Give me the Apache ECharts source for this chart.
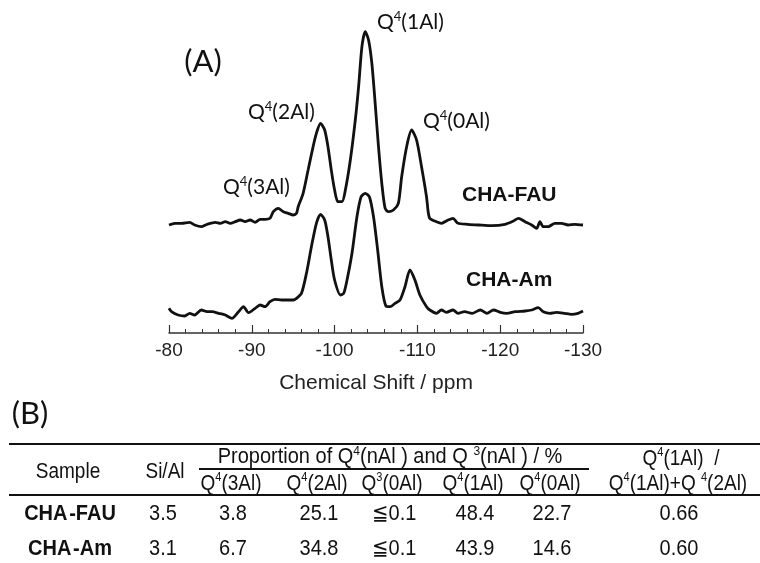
<!DOCTYPE html>
<html>
<head>
<meta charset="utf-8">
<script src="https://cdn.jsdelivr.net/npm/echarts@6/dist/echarts.min.js"></script>
<style>html,body{margin:0;padding:0;background:#fff}#c{width:760px;height:563px}</style>
</head>
<body>
<div id="c"></div>
<script>
// ---- spectrum data (chemical shift in ppm, intensity in arbitrary units) ----
const ppmFAU = [-80.0,-80.7,-81.5,-82.5,-83.1,-83.9,-84.6,-85.6,-86.2,-86.8,-87.4,-88.0,-88.6,-89.2,-89.8,-90.4,-91.0,-91.6,-92.2,-92.6,-93.2,-93.8,-94.4,-95.0,-95.4,-95.6,-96.2,-96.8,-97.4,-97.8,-98.3,-98.8,-99.2,-99.6,-100.0,-100.4,-100.9,-101.3,-101.9,-102.5,-102.9,-103.3,-103.7,-104.1,-104.5,-104.9,-105.3,-105.7,-106.1,-106.5,-107.1,-107.7,-108.1,-108.7,-109.3,-109.9,-110.5,-111.1,-111.3,-111.5,-112.3,-112.9,-113.7,-114.3,-114.9,-116.1,-117.4,-119.0,-120.6,-121.6,-122.2,-123.0,-123.8,-124.4,-124.8,-125.2,-125.8,-126.6,-127.4,-128.2,-129.0,-130.0];
const intFAU = [108,109.7,109.7,110.7,108,106.3,108.7,110.7,109.7,111.3,109.7,111.3,113,111.3,113,110.7,113.7,113.7,114.7,121.3,124.7,121.3,119.7,118,119.7,126.3,139.7,163,186.3,199.7,209.7,203,186.3,163,143,131.3,131.3,143,173,213,246.3,286.3,301.3,293,269.7,229.7,186.3,149.7,124.7,121.3,123,129.7,156.3,186.3,203,193,166.3,136.3,121.3,114.7,111.3,109.7,113,114.7,109.7,108.7,108,107.3,108.7,112,114.7,111.3,108,104.7,111.3,106.3,106.3,109.7,109.7,108,108.7,108];
const ppmAm = [-80.0,-80.3,-81.1,-81.9,-82.5,-83.1,-83.9,-84.6,-85.2,-86.0,-86.8,-87.6,-88.4,-89.0,-89.6,-90.4,-91.0,-91.6,-92.2,-92.8,-93.6,-94.4,-95.0,-95.4,-96.0,-96.6,-97.2,-97.8,-98.3,-98.8,-99.2,-99.6,-100.0,-100.7,-101.1,-101.5,-102.1,-102.7,-103.2,-103.7,-104.2,-104.7,-105.2,-105.7,-106.2,-106.7,-107.3,-107.9,-108.5,-109.1,-109.7,-110.3,-111.1,-111.5,-112.3,-112.9,-113.5,-114.3,-114.9,-115.7,-116.6,-117.6,-118.4,-119.2,-120.0,-120.8,-121.8,-123.0,-123.8,-124.6,-125.2,-126.0,-126.8,-127.8,-128.6,-129.4,-130.0];
const intAm = [24.7,21.3,18,17,19.7,18,23,21.3,21.3,19.7,18,14.7,21.3,26.3,20.3,24.7,28,26.3,31.3,33.7,33,33,33,34.7,39.7,59.7,86.3,109.7,118.7,113,96.3,73,53,38,39.7,53,79.7,116.3,136.3,139.7,136.3,116.3,83,46.3,27,26.3,29.7,33,46.3,63,53,38,26.3,23,19.7,23,20.7,23,19.7,21.3,19.7,23,19.7,23,20.7,19.7,21.3,22,23,25.3,21.3,19.7,20.7,19.7,18.7,19.7,22];

// ---- axis ----
const xMin = -130, xMax = -80, xStep = 10;
const xName = 'Chemical Shift / ppm';

// ---- annotations ----
const peakLabels = ['Q{s|4}(1Al)', 'Q{s|4}(2Al)', 'Q{s|4}(0Al)', 'Q{s|4}(3Al)'];
const traceNames = ['CHA-FAU', 'CHA-Am'];

// ---- table (B) ----
const colHeads = ['Q{s|4}(3Al)', 'Q{s|4}(2Al)', 'Q{s|3}(0Al)', 'Q{s|4}(1Al)', 'Q{s|4}(0Al)'];
const samples = ['CHA\u200a-FAU', 'CHA\u200a-Am'];
const siAl = ['3.5', '3.1'];
const q4_3Al = ['3.8', '6.7'];
const q4_2Al = ['25.1', '34.8'];
const q3_0Al = ['\u22660.1', '\u22660.1'];
const q4_1Al = ['48.4', '43.9'];
const q4_0Al = ['22.7', '14.6'];
const ratio = ['0.66', '0.60'];

const chart = echarts.init(document.getElementById('c'), null, {renderer: 'canvas'});

const LBL = 'Lato, "Open Sans", sans-serif';
const ARL = '"Liberation Sans", Arial, sans-serif';

function txt(text, x, y, fs, opts) {
  opts = opts || {};
  const sy = opts.scaleY || 1;
  return {
    type: 'text', x: x, y: y, z: 10, scaleY: sy,
    style: {
      text: text,
      font: (opts.bold ? 'bold ' : '') + fs + 'px ' + (opts.family || ARL),
      fill: opts.fill || '#111',
      align: opts.align || 'center',
      verticalAlign: 'middle',
      rich: { s: { fontSize: Math.round(fs * 0.6), fontFamily: opts.family || ARL, verticalAlign: 'top', lineHeight: fs * 1.15 } },
      lineHeight: fs * 1.15
    }
  };
}
function hline(x1, x2, y, w) {
  return { type: 'line', z: 10, shape: { x1: x1, y1: y, x2: x2, y2: y }, style: { stroke: '#111', lineWidth: w } };
}

const graphics = [];
// chart annotations
graphics.push(txt('(A)', 203, 62, 31, { family: LBL }));
graphics.push(txt(peakLabels[0], 377, 22, 21, { family: LBL, align: 'left' }));
graphics.push(txt(peakLabels[1], 248, 112, 21, { family: LBL, align: 'left' }));
graphics.push(txt(peakLabels[2], 423, 121, 21, { family: LBL, align: 'left' }));
graphics.push(txt(peakLabels[3], 223, 187, 21, { family: LBL, align: 'left' }));
graphics.push(txt(traceNames[0], 462, 195, 21, { bold: true, align: 'left' }));
graphics.push(txt(traceNames[1], 466, 280, 21, { bold: true, align: 'left' }));

// table
const T = { scaleY: 1.12 };
graphics.push(txt('(B)', 30, 414, 31, { family: LBL }));
graphics.push(hline(9, 760, 444, 2));
graphics.push(hline(199, 589, 469, 2));
graphics.push(hline(9, 760, 495, 2));
graphics.push(txt('Sample', 68, 472, 19, T));
graphics.push(txt('Si/Al', 165, 472, 19, T));
graphics.push(txt('Proportion of Q{s|4}(nAl ) and Q {s|3}(nAl ) / %', 390, 457, 20, T));
const colX = [231, 317, 392, 473, 550];
colHeads.forEach((h, i) => graphics.push(txt(h, colX[i], 484, 19, T)));
graphics.push(txt('Q{s|4}(1Al)  /', 681, 459, 19, T));
graphics.push(txt('Q{s|4}(1Al)+Q {s|4}(2Al)', 678, 484, 19, T));
const rowY = [514, 549];
const cols = [q4_3Al, q4_2Al, q3_0Al, q4_1Al, q4_0Al];
samples.forEach((s, r) => {
  graphics.push(txt(s, 70, rowY[r], 20, { bold: true, scaleY: 1.1 }));
  graphics.push(txt(siAl[r], 163, rowY[r], 20, T));
  cols.forEach((c, i) => graphics.push(txt(c[r], colX[i] + 2, rowY[r], 20, T)));
  graphics.push(txt(ratio[r], 679, rowY[r], 20, T));
});

chart.setOption({
  animation: false,
  backgroundColor: '#fff',
  grid: { left: 169, right: 177, top: 20, bottom: 230, containLabel: false },
  xAxis: {
    type: 'value', min: xMin, max: xMax, interval: xStep, inverse: true,
    name: xName, nameLocation: 'middle', nameGap: 40,
    nameTextStyle: { fontFamily: ARL, fontSize: 21, color: '#222' },
    axisLine: { show: true, onZero: false, lineStyle: { color: '#333', width: 1.5 } },
    axisTick: { show: true, inside: true, length: 8, lineStyle: { color: '#333', width: 1.2 } },
    minorTick: { show: true, splitNumber: 5, length: 4, lineStyle: { color: '#333', width: 1 } },
    axisLabel: { fontFamily: ARL, fontSize: 19, color: '#222', margin: 8 },
    splitLine: { show: false }
  },
  yAxis: { type: 'value', min: 0, max: 313, show: false, splitLine: { show: false } },
  series: [
    { name: traceNames[0], type: 'line', showSymbol: false, symbol: 'none', smooth: 0.25,
      data: ppmFAU.map((p, i) => [p, intFAU[i]]),
      lineStyle: { color: '#111', width: 2.8 } },
    { name: traceNames[1], type: 'line', showSymbol: false, symbol: 'none', smooth: 0.25,
      data: ppmAm.map((p, i) => [p, intAm[i]]),
      lineStyle: { color: '#111', width: 2.8 } }
  ],
  graphic: graphics
});
</script>
</body>
</html>
